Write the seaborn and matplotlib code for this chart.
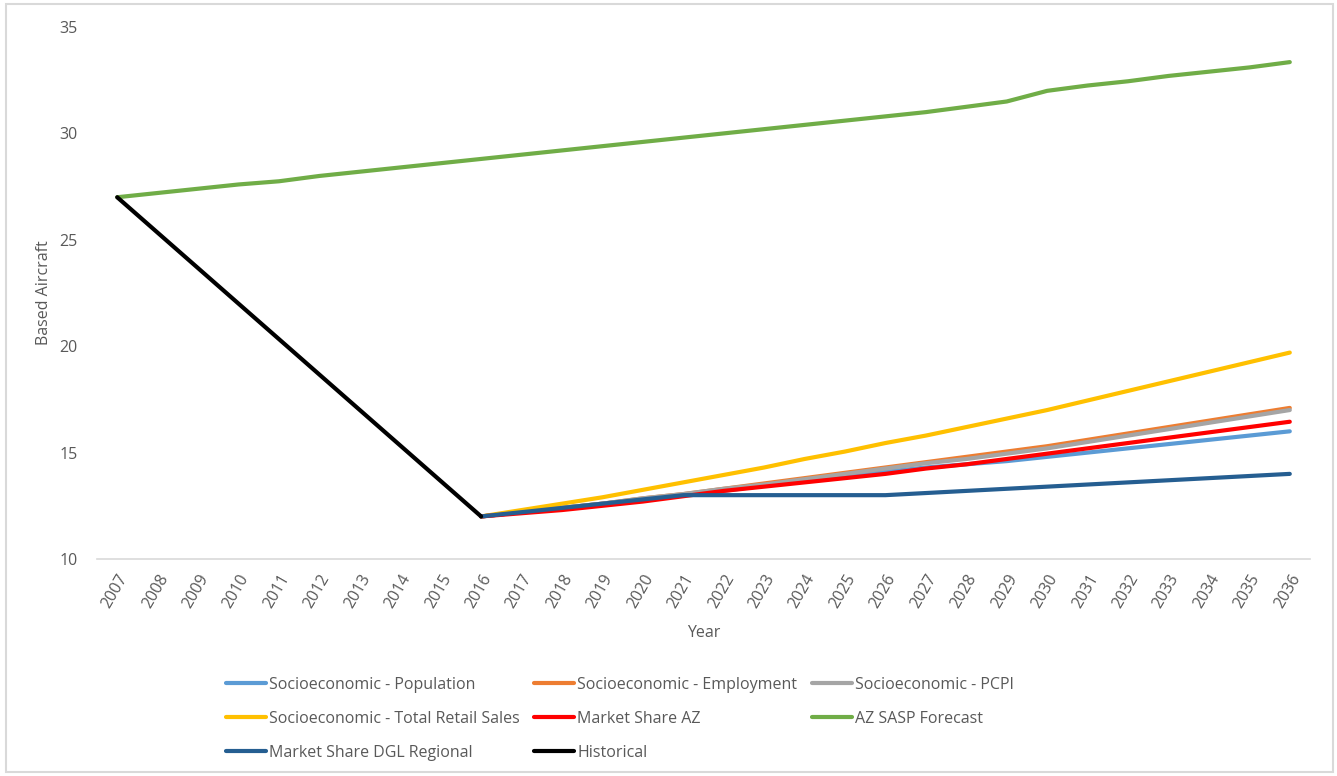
import numpy as np
import pandas as pd
import matplotlib
matplotlib.use("Agg")
import matplotlib.pyplot as plt
import seaborn as sns

years_hist = [2007, 2016]
historical = [27.0, 12.0]

years_full = list(range(2007, 2037))
az_sasp = [27.0, 27.2, 27.4, 27.6, 27.75, 28.0, 28.2, 28.4, 28.6, 28.8,
           29.0, 29.2, 29.4, 29.6, 29.8, 30.0, 30.2, 30.4, 30.6, 30.8,
           31.0, 31.25, 31.5, 32.0, 32.25, 32.45, 32.7, 32.9, 33.1, 33.35]

years_fc = list(range(2016, 2037))
population = [12.0, 12.2, 12.4, 12.6, 12.8, 13.0, 13.2, 13.45, 13.7, 13.9, 14.1,
              14.3, 14.45, 14.6, 14.8, 15.0, 15.2, 15.4, 15.6, 15.8, 16.0]
employment = [12.0, 12.2, 12.4, 12.6, 12.85, 13.05, 13.3, 13.55, 13.8, 14.05, 14.3,
              14.55, 14.8, 15.05, 15.3, 15.6, 15.9, 16.2, 16.5, 16.8, 17.1]
pcpi = [12.0, 12.2, 12.4, 12.6, 12.85, 13.05, 13.3, 13.5, 13.75, 14.0, 14.25,
        14.5, 14.7, 14.95, 15.2, 15.5, 15.8, 16.1, 16.4, 16.7, 17.0]
retail = [12.0, 12.3, 12.6, 12.9, 13.25, 13.6, 13.95, 14.3, 14.7, 15.05, 15.45,
          15.8, 16.2, 16.6, 17.0, 17.45, 17.9, 18.35, 18.8, 19.25, 19.7]
market_az = [12.0, 12.15, 12.3, 12.5, 12.7, 12.95, 13.2, 13.4, 13.6, 13.8, 14.0,
             14.25, 14.45, 14.7, 14.95, 15.2, 15.45, 15.7, 15.95, 16.2, 16.45]
market_dgl = [12.0, 12.2, 12.4, 12.6, 12.8, 13.0, 13.0, 13.0, 13.0, 13.0, 13.0,
              13.1, 13.2, 13.3, 13.4, 13.5, 13.6, 13.7, 13.8, 13.9, 14.0]

series = [
    ("Socioeconomic - Population", years_fc, population, "#5B9BD5"),
    ("Socioeconomic - Employment", years_fc, employment, "#ED7D31"),
    ("Socioeconomic - PCPI", years_fc, pcpi, "#A5A5A5"),
    ("Socioeconomic - Total Retail Sales", years_fc, retail, "#FFC000"),
    ("Market Share AZ", years_fc, market_az, "#FF0000"),
    ("AZ SASP Forecast", years_full, az_sasp, "#70AD47"),
    ("Market Share DGL Regional", years_fc, market_dgl, "#255E91"),
    ("Historical", years_hist, historical, "#000000"),
]

sns.set_theme(style="white")
plt.rcParams['font.family'] = ['Open Sans', 'DejaVu Sans']
txt = "#595959"

fig = plt.figure(figsize=(13.37, 7.76), dpi=100)
ax = fig.add_axes([97/1337, 1-559/776, (1310-97)/1337, (559-27)/776])

for name, xs, ys, col in series:
    df = pd.DataFrame({"Year": xs, "Value": ys})
    sns.lineplot(data=df, x="Year", y="Value", ax=ax, color=col, lw=3,
                 label=name, solid_capstyle="round", solid_joinstyle="round")

ax.set_xlim(2006.5, 2036.5)
ax.set_ylim(10, 35)
ax.set_yticks([10, 15, 20, 25, 30, 35])
ax.set_xticks(years_full)
ax.set_xticklabels([str(y) for y in years_full], rotation=60, ha="right",
                   va="top", rotation_mode="anchor", fontsize=11.5, color=txt)
ax.tick_params(axis="x", pad=9, length=0)
ax.tick_params(axis="y", labelsize=11.5, labelcolor=txt, pad=14, length=0)
for s in ["top", "right", "left"]:
    ax.spines[s].set_visible(False)
ax.spines["bottom"].set_color("#D9D9D9")
ax.spines["bottom"].set_linewidth(1.2)
ax.set_xlabel("Year", fontsize=11.5, color=txt, labelpad=10)
ax.set_ylabel("Based Aircraft", fontsize=11.5, color=txt)
ax.yaxis.set_label_coords(-0.037, 0.5)

handles, labels = ax.get_legend_handles_labels()
ax.get_legend().remove()
order = [0, 3, 6, 1, 4, 7, 2, 5]
leg = fig.legend([handles[i] for i in order], [labels[i] for i in order],
                 loc="upper left", bbox_to_anchor=(226/1337, 1-677/776), ncol=3,
                 frameon=False, fontsize=11.5, handlelength=2.5, handletextpad=0.2,
                 columnspacing=0.9, labelspacing=1.12, borderaxespad=0, borderpad=0)
for t in leg.get_texts():
    t.set_color(txt)

border = plt.Rectangle((6/1337, 4/776), 1327/1337, 768/776, transform=fig.transFigure,
                       fill=False, edgecolor="#D9D9D9", lw=1.5)
fig.patches.append(border)

fig.savefig("out.png", dpi=100)
